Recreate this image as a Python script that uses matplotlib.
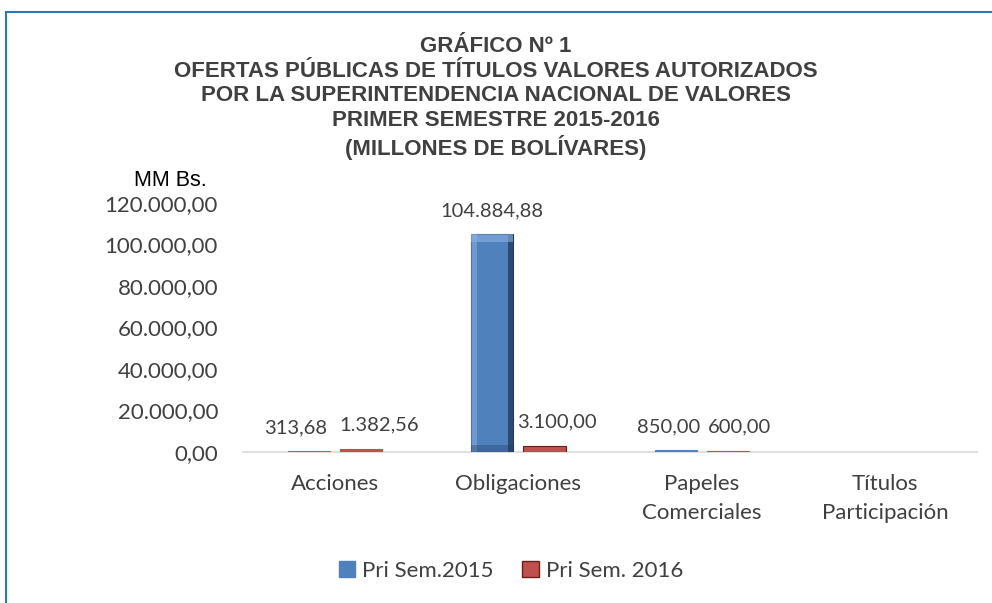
import numpy as np
import matplotlib
matplotlib.use("Agg")
import matplotlib.pyplot as plt
from matplotlib.lines import Line2D
from matplotlib.patches import Patch
from matplotlib import font_manager

categories = ["Acciones", "Obligaciones", "Papeles\nComerciales", "Títulos\nParticipación"]
series_names = ["Pri Sem.2015", "Pri Sem. 2016"]
values_2015 = [313.68, 104884.88, 850.00, np.nan]
values_2016 = [1382.56, 3100.00, 600.00, np.nan]
y_ticks = [0, 20000, 40000, 60000, 80000, 100000, 120000]

title_lines = [
    "GRÁFICO Nº 1",
    "OFERTAS PÚBLICAS DE TÍTULOS VALORES AUTORIZADOS",
    "POR LA SUPERINTENDENCIA NACIONAL DE VALORES",
    "PRIMER SEMESTRE 2015-2016",
    "(MILLONES DE BOLÍVARES)",
]

# Excel nudged the small labels sideways so they don't collide (points)
nudge_2015 = [-9, 0, -5, 0]
nudge_2016 = [13, 9, 8, 0]

BLUE = "#4F81BD"
RED = "#C0504D"
TEXT = "#404040"

names = {f.name for f in font_manager.fontManager.ttflist}
title_font = "Liberation Sans Narrow" if "Liberation Sans Narrow" in names else "Liberation Sans"
body_font = "Lato"
FS = 16
LABEL_FS = 14.5


def fmt(v):
    s = f"{v:,.2f}"
    return s.replace(",", "X").replace(".", ",").replace("X", ".")


def bevel_bar(ax, x, w, h, color, dark, light):
    """flat bar + darker right strip + lighter left strip, roughly like Excel's bevel"""
    big = h > 2000
    ax.bar(x, h, w, color=color, edgecolor=dark if big else color,
           linewidth=0.8, zorder=3)
    if h > 20000:
        edge = w * 0.13
        ax.bar(x + w / 2 - edge / 2, h, edge, color=dark, alpha=0.75, linewidth=0, zorder=4)
        ax.bar(x - w / 2 + edge / 2, h, edge, color=light, alpha=0.5, linewidth=0, zorder=4)
        ax.bar(x, h * 0.035, w, bottom=h * 0.965, color=light, alpha=0.6, linewidth=0, zorder=4)
        ax.bar(x, h * 0.03, w, color=dark, alpha=0.35, linewidth=0, zorder=4)


fig = plt.figure(figsize=(9.92, 6.03), dpi=100)
ax = fig.add_axes([0.245, 0.2504, 0.74, 0.413])

x = np.arange(len(categories))
w = 0.23
gap = 0.055
for i in range(len(categories)):
    v1, v2 = values_2015[i], values_2016[i]
    x1 = x[i] - (w + gap) / 2
    x2 = x[i] + (w + gap) / 2
    if not np.isnan(v1):
        bevel_bar(ax, x1, w, v1, BLUE, "#1F3A5C", "#8DB3E2")
        ax.annotate(fmt(v1), (x1, v1), xytext=(nudge_2015[i], 11), textcoords="offset points",
                    ha="center", va="bottom", fontsize=LABEL_FS, color=TEXT, family=body_font)
    if not np.isnan(v2):
        bevel_bar(ax, x2, w, v2, RED, "#6B1F1D", "#E6B9B8")
        ax.annotate(fmt(v2), (x2, v2), xytext=(nudge_2016[i], 11), textcoords="offset points",
                    ha="center", va="bottom", fontsize=LABEL_FS, color=TEXT, family=body_font)

ax.set_xlim(-0.5, len(categories) - 0.5)
ax.set_ylim(0, 120000)
ax.set_yticks(y_ticks)
ax.set_yticklabels([fmt(t) for t in y_ticks], fontsize=FS, color=TEXT, family=body_font)
ax.set_xticks(x)
ax.set_xticklabels(categories, fontsize=FS, color=TEXT, family=body_font, linespacing=1.55,
                   va="top")
ax.tick_params(axis="y", length=0, pad=18)
ax.tick_params(axis="x", length=0, pad=16)
for side in ["top", "right", "left"]:
    ax.spines[side].set_visible(False)
ax.spines["bottom"].set_color("#D9D9D9")
ax.spines["bottom"].set_linewidth(1.2)

fig.text(0.5, 1 - 36 / 603, "\n".join(title_lines), ha="center", va="top", fontsize=16,
         fontweight="bold", color=TEXT, family=title_font, linespacing=1.22)
fig.text(170 / 992, 1 - 180 / 603, "MM Bs.", ha="center", va="center", fontsize=15.5,
         color="black", family="Liberation Sans")

handles = [Patch(facecolor=BLUE, edgecolor=BLUE), Patch(facecolor=RED, edgecolor="#6B1F1D")]
fig.legend(handles, series_names, loc="center", bbox_to_anchor=(0.515, 1 - 571 / 603), ncol=2,
           frameon=False, handlelength=0.75, handleheight=0.75, handletextpad=0.3,
           columnspacing=1.3, prop={"family": body_font, "size": FS}, labelcolor=TEXT)

# blue frame round the chart (only left and top edges are in view)
fig.add_artist(Line2D([0.006, 0.006], [0.0, 0.98], color="#2E75B6", lw=1.5))
fig.add_artist(Line2D([0.006, 1.0], [0.98, 0.98], color="#2E75B6", lw=1.5))

fig.savefig("out.png", dpi=100)
